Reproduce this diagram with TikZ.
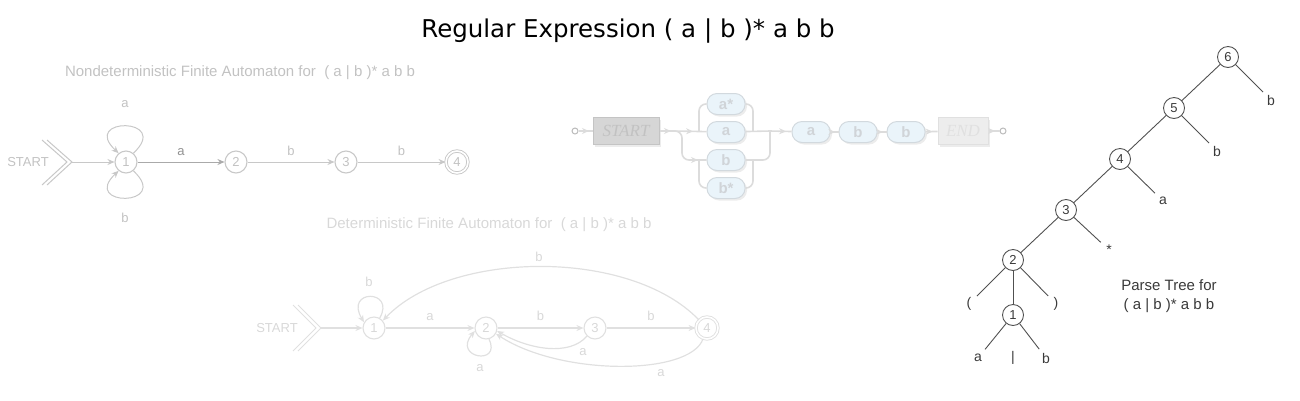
\documentclass[tikz,border=0pt]{standalone}
\usepackage{fontspec}
\setmainfont{Liberation Sans}
\newfontfamily\dejavu{DejaVu Sans}
\newfontfamily\rrserif{Liberation Serif}
\usetikzlibrary{arrows.meta,shadows,decorations.markings}
\definecolor{nfaline}{HTML}{C8C8C8}
\definecolor{nfatext}{HTML}{C2C2C2}
\definecolor{dfaline}{HTML}{E0E0E0}
\definecolor{dfatext}{HTML}{D8D8D8}
\definecolor{rrline}{HTML}{DCDCDC}
\definecolor{rrfill}{HTML}{EAF4FA}
\definecolor{rrdraw}{HTML}{D2D9DE}
\definecolor{rrtext}{HTML}{D0D4D8}
\definecolor{startfill}{HTML}{D6D6D6}
\definecolor{startdraw}{HTML}{C4C4C4}
\definecolor{endfill}{HTML}{EDEDED}
\definecolor{enddraw}{HTML}{E0E0E0}
\definecolor{treeline}{HTML}{505050}
\definecolor{treetext}{HTML}{3A3A3A}
\begin{document}
\begin{tikzpicture}[x=1pt,y=-1pt,
  fs/.style={font=\fontsize{#1}{#1}\selectfont},
  tip/.style={-{Stealth[length=7pt,width=6pt]}},
  nfastate/.style={circle,draw=nfaline,line width=1.1pt,minimum size=22pt,inner sep=0pt,text=nfatext,fs=13},
  nfaedge/.style={draw=nfaline,line width=1pt,tip},
  nfalab/.style={text=nfatext,fs=13},
  dfastate/.style={circle,draw=dfaline,line width=1.1pt,minimum size=22pt,inner sep=0pt,text=dfatext,fs=13},
  dfaedge/.style={draw=dfaline,line width=1.2pt,tip},
  dfalab/.style={text=dfatext,fs=13},
  accept/.style={double=white,double distance=1.6pt,line width=0.9pt},
  rrshadow/.style={drop shadow={shadow xshift=2pt,shadow yshift=-2pt,fill=black!12,opacity=0.6}},
  rrbox/.style={draw=rrdraw,fill=rrfill,line width=1pt,rounded corners=10pt,minimum width=38pt,minimum height=21pt,inner sep=0pt,text=rrtext,font=\bfseries\fontsize{15}{15}\selectfont,rrshadow},
  rrterm/.style={line width=1pt,minimum height=27pt,inner sep=0pt,font=\rrserif\itshape\fontsize{17}{17}\selectfont,rrshadow},
  rrdot/.style={circle,draw=rrline!85!black,line width=1pt,minimum size=6pt,inner sep=0pt},
  rrwire/.style={draw=rrline,line width=1.6pt},
  rrmid/.style={rrwire,postaction={decorate},decoration={markings,mark=at position #1 with {\arrow[rrline]{Stealth[length=7pt,width=6pt]}}}},
  tnode/.style={circle,draw=treeline,line width=0.9pt,minimum size=21pt,inner sep=0pt,text=treetext,fs=13},
  tleaf/.style={circle,minimum size=22pt,inner sep=0pt,text=treetext,fs=14},
  tedge/.style={draw=treeline,line width=0.9pt}
]
\useasboundingbox (0,0) rectangle (1300,400);

% ---------- main title ----------
\node[text=black,font=\dejavu\fontsize{24.5}{24.5}\selectfont] (title) at (628,31) {Regular Expression ( a | b )* a b b};

% ---------- NFA ----------
\node[text=nfatext,fs=15] (nfatitle) at (240,73) {Nondeterministic Finite Automaton for\ \ ( a | b )* a b b};
\node[text=nfatext,fs=13] (nstart) at (28,162) {START};
\draw[nfaline,line width=1pt] (42,140) -- (67,162) -- (42,185);
\draw[nfaline,line width=1pt] (47,140) -- (72,162) -- (47,185);
\coordinate (nchev) at (72,162);
\node[nfastate] (n1) at (126,162) {1};
\node[nfastate] (n2) at (236,162) {2};
\node[nfastate] (n3) at (346,162) {3};
\node[nfastate,accept] (n4) at (457,162) {4};
\draw[nfaedge] (nchev) -- (n1);
\draw[nfaedge,draw=nfaline!85!black] (n1) -- node[above=3pt,nfalab,text=nfatext!75!black] {a} (n2);
\draw[nfaedge] (n2) -- node[above=3pt,nfalab] {b} (n3);
\draw[nfaedge] (n3) -- node[above=3pt,nfalab] {b} (n4);
\draw[nfaedge] (n1.50) .. controls (172,117) and (80,117) .. (n1.130);
\draw[nfaedge] (n1.-50) .. controls (172,207) and (80,207) .. (n1.-130);
\node[nfalab] (nla) at (125,104) {a};
\node[nfalab] (nlb) at (125,218) {b};

% ---------- Railroad ----------
\node[rrdot] (rbeg) at (575,131) {};
\node[rrterm,draw=startdraw,fill=startfill,minimum width=66pt,text=black!24] (rs) at (626,131) {START};
\node[rrbox] (ras) at (726,104) {a*};
\node[rrbox] (ra) at (726,132) {a};
\node[rrbox] (rb) at (726,160) {b};
\node[rrbox] (rbs) at (726,188) {b*};
\node[rrbox] (ra2) at (811,132) {a};
\node[rrbox] (rb2) at (858,132) {b};
\node[rrbox] (rb3) at (906,132) {b};
\node[rrterm,draw=enddraw,fill=endfill,minimum width=50pt,text=black!12] (rend) at (963,131) {END};
\node[rrdot] (rfin) at (1003,131) {};
\coordinate (j1) at (673,131);
\coordinate (j1b) at (682,131);
\coordinate (jbl) at (682,160);
\coordinate (j2) at (770,131);
\coordinate (j2b) at (770,160);
\coordinate (lu) at (699,131);
\coordinate (ru) at (753,131);
\coordinate (ld) at (699,160);
\coordinate (rd) at (753,160);
\draw[rrmid=0.75] (rbeg) -- (rs);
\draw[rrmid=0.85] (rs) -- (j1);
\draw[rrmid=0.6] (j1) -- (ra);
\draw[rrmid=0.85,rounded corners=7pt] (j1) -- (j1b) -- (jbl) -- (rb);
\draw[rrwire] (ra) -- (j2);
\draw[rrwire,rounded corners=7pt] (rb) -- (j2b) -- (j2);
\draw[rrmid=0.75] (j2) -- (ra2);
\draw[rrmid=0.6] (ra2) -- (rb2);
\draw[rrmid=0.6] (rb2) -- (rb3);
\draw[rrmid=0.6] (rb3) -- (rend);
\draw[rrmid=0.6] (rend) -- (rfin);
\draw[rrwire,rounded corners=7pt] (lu) |- (ras);
\draw[rrwire,rounded corners=7pt] (ras) -| (ru);
\draw[rrwire,rounded corners=7pt] (ld) |- (rbs);
\draw[rrwire,rounded corners=7pt] (rbs) -| (rd);

% ---------- DFA ----------
\node[text=dfatext,fs=15] (dfatitle) at (489,225) {Deterministic Finite Automaton for\ \ ( a | b )* a b b};
\node[text=dfatext,fs=13] (dstart) at (277,328) {START};
\draw[dfaline,line width=1pt] (293,305) -- (316,328) -- (293,351);
\draw[dfaline,line width=1pt] (298,305) -- (321,328) -- (298,351);
\coordinate (dchev) at (321,328);
\node[dfastate] (d1) at (374,328) {1};
\node[dfastate] (d2) at (486,328) {2};
\node[dfastate] (d3) at (595,328) {3};
\node[dfastate,accept] (d4) at (707,328) {4};
\draw[dfaedge] (dchev) -- (d1);
\draw[dfaedge] (d1) -- node[above=3pt,dfalab] {a} (d2);
\draw[dfaedge] (d2) -- node[above=3pt,dfalab] {b} (d3);
\draw[dfaedge] (d3) -- node[above=3pt,dfalab] {b} (d4);
\draw[dfaedge] (d1.60) .. controls (396,289) and (344,289) .. (d1.150);
\draw[dfaedge] (d4.135) .. controls (630,248) and (450,250) .. (d1.40);
\draw[dfaedge] (d3.225) .. controls (570,356) and (530,350) .. (d2.-15);
\draw[dfaedge] (d4.250) .. controls (690,376) and (560,376) .. (d2.-30);
\draw[dfaedge] (d2.-75) .. controls (502,366) and (452,358) .. (d2.195);
\node[dfalab] (dlb1) at (369,282) {b};
\node[dfalab] (dlb4) at (539,257) {b};
\node[dfalab] (dla2) at (480,368) {a};
\node[dfalab] (dla3) at (583,352) {a};
\node[dfalab] (dla4) at (661,373) {a};

% ---------- Parse tree ----------
\node[tnode] (t6) at (1228,57) {6};
\node[tnode] (t5) at (1174,108) {5};
\node[tnode] (t4) at (1120,159) {4};
\node[tnode] (t3) at (1066,210) {3};
\node[tnode] (t2) at (1013,260) {2};
\node[tnode] (t1) at (1013,315) {1};
\node[tleaf] (l6) at (1271,100) {b};
\node[tleaf] (l5) at (1217,151) {b};
\node[tleaf] (l4) at (1163,201) {a};
\node[tleaf] (l3) at (1109,250) {*};
\node[tleaf] (lo) at (969,304) {(};
\node[tleaf] (lc) at (1056,304) {)};
\node[tleaf] (la) at (978,358) {a};
\node[tleaf] (lbar) at (1013,358) {|};
\node[tleaf] (lb) at (1046,358) {b};
\draw[tedge] (t6) -- (t5);
\draw[tedge] (t5) -- (t4);
\draw[tedge] (t4) -- (t3);
\draw[tedge] (t3) -- (t2);
\draw[tedge] (t2) -- (t1);
\draw[tedge] (t6) -- (l6);
\draw[tedge] (t5) -- (l5);
\draw[tedge] (t4) -- (l4);
\draw[tedge] (t3) -- (l3);
\draw[tedge] (t2) -- (lo);
\draw[tedge] (t2) -- (lc);
\draw[tedge] (t1) -- (la);
\draw[tedge] (t1) -- (lb);
\node[text=treetext,fs=15,align=center] (ptcap) at (1169,296) {Parse Tree for\\[4pt]( a | b )* a b b};
\end{tikzpicture}
\end{document}
